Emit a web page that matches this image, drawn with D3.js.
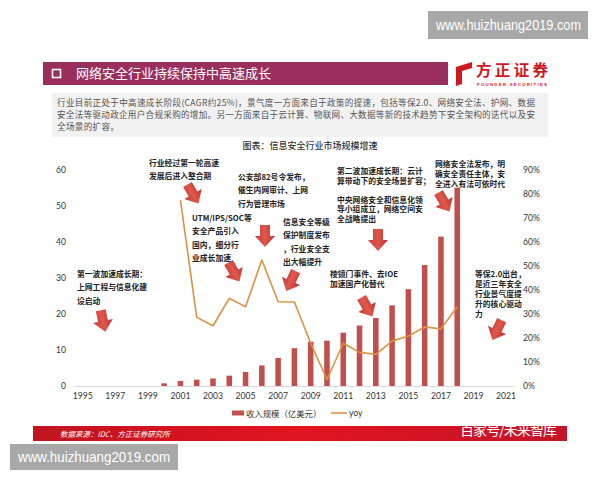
<!DOCTYPE html>
<html><head><meta charset="utf-8">
<script src="https://cdn.jsdelivr.net/npm/d3@7"></script>
<style>
html,body{margin:0;padding:0;background:#fff;}
svg{display:block;}
</style>
</head><body>
<svg id="c" width="600" height="480"></svg>
<script>
// ---------- data ----------
const years = ["1995","1996","1997","1998","1999","2000","2001","2002","2003","2004","2005","2006","2007","2008","2009","2010","2011","2012","2013","2014","2015","2016","2017","2018","2019","2020","2021"];
const tickYears = ["1995","1997","1999","2001","2003","2005","2007","2009","2011","2013","2015","2017","2019","2021"];
const revYears = ["2000","2001","2002","2003","2004","2005","2006","2007","2008","2009","2010","2011","2012","2013","2014","2015","2016","2017","2018"];
const revenue  = [0.74, 1.4, 1.76, 2.1, 2.87, 3.9, 5.7, 7.8, 10.5, 12.3, 12.6, 14.8, 16.8, 18.9, 22.4, 26.9, 33.6, 41.5, 55.1];
const yoyYears = ["2001","2002","2003","2004","2005","2006","2007","2008","2009","2010","2011","2012","2013","2014","2015","2016","2017","2018"];
const yoy      = [0.775, 0.286, 0.251, 0.365, 0.33, 0.525, 0.351, 0.35, 0.178, 0.027, 0.178, 0.14, 0.132, 0.187, 0.208, 0.246, 0.238, 0.33];
const leftTicks = [0, 10, 20, 30, 40, 50, 60];
const rightTicks = [0, 0.1, 0.2, 0.3, 0.4, 0.5, 0.6, 0.7, 0.8, 0.9];
const seriesNames = ["收入规模（亿美元）", "yoy"];

const titleText = "网络安全行业持续保持中高速成长";
const paraLines = [
  "行业目前正处于中高速成长阶段(CAGR约25%)，景气度一方面来自于政策的提速，包括等保2.0、网络安全法、护网、数据",
  "安全法等驱动政企用户合规采购的增加。另一方面来自于云计算、物联网、大数据等新的技术趋势下安全架构的迭代以及安",
  "全场景的扩容。"
];
const captionText = "图表：信息安全行业市场规模增速";
const sourceText = "数据来源：IDC、方正证券研究所";
const annotations = [
  ["第一波加速成长期：","上网工程与信息化建","设启动"],
  ["行业经过第一轮高速","发展后进入整合期"],
  ["UTM/IPS/SOC等","安全产品引入","国内，细分行","业成长加速"],
  ["公安部82号令发布，","催生内网审计、上网","行为管理市场"],
  ["信息安全等级","保护制度发布","，行业安全支","出大幅提升"],
  ["第二波加速成长期：云计","算带动下的安全场景扩容；"],
  ["中央网络安全和信息化领","导小组成立，网络空间安","全战略提出"],
  ["棱镜门事件、去IOE","加速国产化替代"],
  ["网络安全法发布，明","确安全责任主体，安","全进入有法可依时代"],
  ["等保2.0出台，","是近三年安全","行业景气度提","升的核心驱动","力"]
];

// ---------- layout ----------
const annotLayout = [
  {x:77,  y:273, lh:13.5},
  {x:149, y:162, lh:13.5},
  {x:192, y:217, lh:13.5},
  {x:238, y:176, lh:13.7},
  {x:283, y:221, lh:13.5},
  {x:337, y:170, lh:10},
  {x:337, y:199, lh:9.8},
  {x:330, y:273, lh:10},
  {x:435, y:163, lh:10},
  {x:475, y:273, lh:10}
];
const arrowLayout = [
  {x:103, y:321, a:-12},
  {x:193, y:194, a:-30},
  {x:234, y:272, a:-30},
  {x:265, y:236, a:0},
  {x:291, y:281, a:25},
  {x:378, y:240, a:0},
  {x:367, y:307, a:-30},
  {x:444, y:202, a:-30},
  {x:497, y:330, a:25}
];

const svg = d3.select("#c");
const CJK = "'Noto Sans CJK SC','Noto Sans',sans-serif";
const NUM = "Lato,'Open Sans','Liberation Sans',sans-serif";

svg.append("rect").attr("width",600).attr("height",480).attr("fill","#fff");

// defs
const defs = svg.append("defs");
const g1 = defs.append("linearGradient").attr("id","band").attr("x1","0").attr("x2","1");
g1.append("stop").attr("offset","0").attr("stop-color","#c0141f");
g1.append("stop").attr("offset","0.5").attr("stop-color","#e2141f");
g1.append("stop").attr("offset","1").attr("stop-color","#c41428");
const g2 = defs.append("linearGradient").attr("id","arr").attr("x1","0").attr("x2","1");
g2.append("stop").attr("offset","0").attr("stop-color","#c23a32");
g2.append("stop").attr("offset","0.5").attr("stop-color","#e0574c");
g2.append("stop").attr("offset","1").attr("stop-color","#b8342d");

// top watermark
svg.append("rect").attr("x",428).attr("y",11).attr("width",160).attr("height",28).attr("fill","#a8a8a8");
svg.append("text").attr("x",436).attr("y",30).attr("fill","#fff")
  .attr("font-family","'Liberation Sans',Arial,sans-serif").attr("font-size",14)
  .attr("textLength",145).attr("lengthAdjust","spacingAndGlyphs").text("www.huizhuang2019.com");

// title bar
svg.append("rect").attr("x",43).attr("y",62).attr("width",405).attr("height",23).attr("fill","#9a2f5e");
svg.append("rect").attr("x",52.5).attr("y",69.5).attr("width",8).attr("height",8).attr("fill","none").attr("stroke","#fff").attr("stroke-width",1.6);
svg.append("text").attr("x",76).attr("y",78).attr("fill","#fff").attr("font-family",CJK).attr("font-size",13)
  .text(titleText);

// logo
svg.append("path").attr("d","M456,67 L472,62 L472,68 L462,71 L462,84 L456,86 Z").attr("fill","#d2161e");
svg.append("text").attr("x",476).attr("y",76).attr("fill","#d2161e").attr("font-family",CJK).attr("font-weight","bold")
  .attr("font-size",15.5).attr("textLength",72).text("方正证券");
svg.append("text").attr("x",477).attr("y",85.5).attr("fill","#d2161e").attr("font-family","'Liberation Sans',sans-serif").attr("font-weight","bold")
  .attr("font-size",4.4).attr("textLength",70).text("FOUNDER SECURITIES");

// paragraph box
svg.append("rect").attr("x",52).attr("y",93).attr("width",496).attr("height",44).attr("fill","#f2f2f2");
const paraW = [478, 478, 62];
paraLines.forEach((t,i)=>{
  svg.append("text").attr("x",57).attr("y",106 + i*12).attr("fill","#555").attr("font-family",CJK)
    .attr("font-size",8.6).attr("textLength",paraW[i]).attr("lengthAdjust","spacing").text(t);
});

// caption
svg.append("text").attr("x",310).attr("y",149).attr("text-anchor","middle").attr("fill","#333")
  .attr("font-family",CJK).attr("font-size",9).attr("font-weight","500").text(captionText);

// ---------- chart ----------
const x = d3.scaleBand().domain(years).range([74.6, 514.2]).paddingInner(0.66).paddingOuter(0.33);
const yL = d3.scaleLinear().domain([0, 60]).range([386, 170]);
const yR = d3.scaleLinear().domain([0, 0.9]).range([386, 170]);
const cx = d => x(d) + x.bandwidth()/2;

// axes
const ax = svg.append("g").attr("transform","translate(0,386)")
  .call(d3.axisBottom(x).tickValues(tickYears).tickSize(0).tickPadding(7));
ax.select(".domain").attr("stroke","#d9d9d9").attr("stroke-width",1);
ax.selectAll("text").attr("font-family",NUM).attr("font-size",8.6).attr("fill","#333");

const al = svg.append("g").attr("transform","translate(70,0)")
  .call(d3.axisLeft(yL).tickValues(leftTicks).tickSize(0).tickPadding(4));
al.select(".domain").remove();
al.selectAll("text").attr("font-family",NUM).attr("font-size",8.6).attr("fill","#333");

const ar = svg.append("g").attr("transform","translate(519,0)")
  .call(d3.axisRight(yR).tickValues(rightTicks).tickSize(0).tickPadding(4).tickFormat(d3.format(".0%")));
ar.select(".domain").remove();
ar.selectAll("text").attr("font-family",NUM).attr("font-size",8.6).attr("fill","#333");

// bars
svg.append("g").selectAll("rect").data(revYears.map((y,i)=>({y, v:revenue[i]}))).join("rect")
  .attr("x", d=>x(d.y)).attr("width", x.bandwidth())
  .attr("y", d=>yL(d.v)).attr("height", d=>yL(0)-yL(d.v))
  .attr("fill","#c0504d");

// yoy line
const line = d3.line().x(d=>cx(d.y)).y(d=>yR(d.v));
svg.append("path").datum(yoyYears.map((y,i)=>({y, v:yoy[i]})))
  .attr("d", line).attr("fill","none").attr("stroke","#e0903e").attr("stroke-width",1.6).attr("stroke-linejoin","round");

// arrows
const arrowPath = "M-5,-11 L5,-11 L5,0 L10,0 L0,11 L-10,0 L-5,0 Z";
svg.append("g").selectAll("path").data(arrowLayout).join("path")
  .attr("d", arrowPath)
  .attr("transform", d=>`translate(${d.x},${d.y}) rotate(${d.a})`)
  .attr("fill","url(#arr)");

// annotations
annotations.forEach((lines,i)=>{
  const L = annotLayout[i];
  const t = svg.append("text").attr("font-family",CJK).attr("font-size",7.8).attr("font-weight","bold").attr("fill","#222");
  lines.forEach((s,j)=>{
    t.append("tspan").attr("x",L.x).attr("y",L.y + j*L.lh).attr("dominant-baseline","central").text(s);
  });
});

// legend
const lg = svg.append("g");
lg.append("rect").attr("x",232).attr("y",410.5).attr("width",12).attr("height",5).attr("fill","#c0504d");
lg.append("text").attr("x",246).attr("y",413).attr("dominant-baseline","central").attr("font-family",CJK)
  .attr("font-size",8.4).attr("fill","#333").text(seriesNames[0]);
lg.append("line").attr("x1",331).attr("x2",347).attr("y1",413).attr("y2",413).attr("stroke","#e0903e").attr("stroke-width",1.6);
lg.append("text").attr("x",349).attr("y",413).attr("dominant-baseline","central").attr("font-family",NUM)
  .attr("font-size",8.6).attr("fill","#333").text(seriesNames[1]);

// bottom band
svg.append("rect").attr("x",33).attr("y",426).attr("width",534).attr("height",15).attr("fill","url(#band)");
svg.append("text").attr("x",60).attr("y",436.5).attr("fill","#fff").attr("font-family",CJK).attr("font-style","italic")
  .attr("font-size",7.5).text(sourceText);
svg.append("text").attr("x",460).attr("y",435).attr("fill","#fff").attr("font-family",CJK)
  .attr("font-size",14).attr("textLength",97).text("百家号/未来智库");

// bottom watermark
svg.append("rect").attr("x",10).attr("y",444).attr("width",168).attr("height",26).attr("fill","#a8a8a8");
svg.append("text").attr("x",18).attr("y",462).attr("fill","#fff")
  .attr("font-family","'Liberation Sans',Arial,sans-serif").attr("font-size",14)
  .attr("textLength",152).attr("lengthAdjust","spacingAndGlyphs").text("www.huizhuang2019.com");
</script>
</body></html>
